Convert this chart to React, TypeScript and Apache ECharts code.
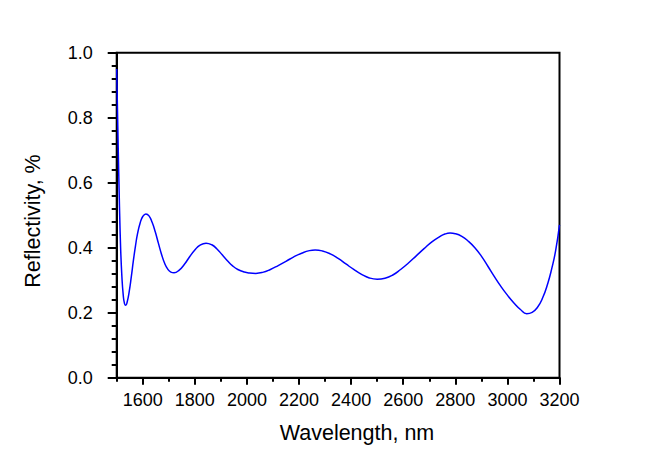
import React, { useEffect, useRef } from "react";
import * as echarts from "echarts";

const wavelengths = [
  1500, 1505, 1510, 1515, 1520, 1525, 1530, 1535, 1540, 1548, 1556, 1564, 1572, 1580, 1590, 1600, 1612, 1624, 1636, 1648,
  1660, 1672, 1684, 1696, 1708, 1720, 1740, 1760, 1780, 1800, 1820, 1843, 1865, 1885, 1905, 1925, 1945, 1965, 1990, 2010,
  2034, 2060, 2090, 2120, 2150, 2180, 2210, 2240, 2262, 2290, 2320, 2350, 2380, 2410, 2440, 2470, 2500, 2530, 2560, 2590,
  2620, 2650, 2680, 2710, 2740, 2760, 2780, 2800, 2825, 2850, 2875, 2900, 2925, 2950, 2975, 3000, 3025, 3050, 3074, 3095,
  3115, 3135, 3155, 3170, 3185, 3200,
];
const reflectivity = [
  0.95, 0.74, 0.55, 0.4, 0.31, 0.255, 0.228, 0.223, 0.232, 0.265, 0.31, 0.36, 0.405, 0.443, 0.476, 0.496, 0.504, 0.498, 0.478, 0.449,
  0.414, 0.38, 0.352, 0.334, 0.325, 0.323, 0.331, 0.349, 0.372, 0.393, 0.408, 0.414, 0.409, 0.396, 0.378, 0.36, 0.344, 0.333, 0.325, 0.322,
  0.321, 0.324, 0.333, 0.345, 0.358, 0.372, 0.383, 0.391, 0.393, 0.39, 0.381, 0.367, 0.35, 0.333, 0.318, 0.307, 0.303, 0.306, 0.316, 0.333,
  0.353, 0.375, 0.397, 0.418, 0.434, 0.442, 0.445, 0.443, 0.435, 0.42, 0.4, 0.374, 0.343, 0.311, 0.281, 0.254, 0.23, 0.21, 0.197, 0.201,
  0.216, 0.245, 0.29, 0.335, 0.39, 0.47,
];
const xLabelTicks = [1600, 1800, 2000, 2200, 2400, 2600, 2800, 3000, 3200];
const xTitle = "Wavelength, nm";
const yTitle = "Reflectivity, %";

export default function App() {
  const ref = useRef<HTMLDivElement>(null);
  useEffect(() => {
    document.body.style.margin = "0";
    const chart = echarts.init(ref.current!, null, { renderer: "svg" });
    const font = "'Liberation Sans', Arial, sans-serif";
    const data = wavelengths.map((w, i) => [w, reflectivity[i]]);
    chart.setOption({
      animation: false,
      backgroundColor: "#fff",
      grid: [
        { left: 116.7, right: 90.5, top: 52.7, bottom: 75.3, show: true, borderColor: "#000", borderWidth: 2, backgroundColor: "transparent" },
        { left: 142.75, right: 90.5, top: 52.7, bottom: 75.3 },
      ],
      xAxis: [
        {
          type: "value", gridIndex: 0, min: 1500, max: 3200, interval: 100,
          axisLine: { show: true, lineStyle: { color: "#000", width: 2 } },
          axisTick: { show: true, length: 4, lineStyle: { color: "#000", width: 2 } },
          axisLabel: { show: false },
          splitLine: { show: false },
        },
        {
          type: "value", gridIndex: 1, min: xLabelTicks[0], max: xLabelTicks[xLabelTicks.length - 1], interval: 200,
          axisLine: { show: false },
          axisTick: { show: true, length: 7, lineStyle: { color: "#000", width: 2 } },
          axisLabel: { show: true, color: "#000", fontSize: 18, fontFamily: font, margin: 13, formatter: (v: number) => String(v) },
          splitLine: { show: false },
        },
      ],
      yAxis: [
        {
          type: "value", gridIndex: 0, min: 0, max: 1, interval: 0.2,
          axisLine: { show: true, lineStyle: { color: "#000", width: 2 } },
          axisTick: { show: true, length: 9, lineStyle: { color: "#000", width: 2 } },
          minorTick: { show: true, splitNumber: 5, length: 5, lineStyle: { color: "#000", width: 2 } },
          axisLabel: { color: "#000", fontSize: 18, fontFamily: font, margin: 24, formatter: (v: number) => v.toFixed(1) },
          splitLine: { show: false },
        },
        { type: "value", gridIndex: 1, min: 0, max: 1, show: false },
      ],
      series: [
        {
          type: "line", xAxisIndex: 0, yAxisIndex: 0, data, showSymbol: false, smooth: 0.5,
          lineStyle: { color: "#0000ff", width: 1.5 },
        },
      ],
      graphic: [
        { type: "text", x: 357, y: 433, style: { text: xTitle, fill: "#000", font: `21.5px ${font}`, textAlign: "center", textVerticalAlign: "middle" } },
        { type: "text", x: 33, y: 221, rotation: Math.PI / 2, style: { text: yTitle, fill: "#000", font: `21.5px ${font}`, textAlign: "center", textVerticalAlign: "middle" } },
      ],
    });
    return () => chart.dispose();
  }, []);
  return <div ref={ref} style={{ width: 650, height: 453 }} />;
}
